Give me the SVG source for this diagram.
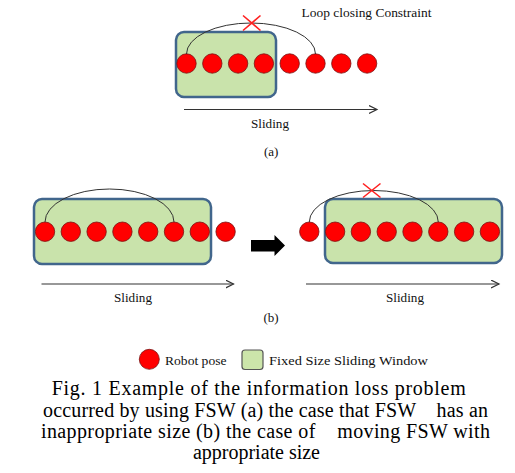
<svg xmlns="http://www.w3.org/2000/svg" width="515" height="473" viewBox="0 0 515 473">
<defs>
<style>
.win{fill:#c9e3ab;stroke:#41668c;stroke-width:2.5}
.pose{fill:#ff0000;stroke:#7a1010;stroke-width:0.8}
.arc{fill:none;stroke:#333;stroke-width:1}
.x{stroke:#ff2020;stroke-width:1.6;fill:none}
.slide{stroke:#333;stroke-width:1.2;fill:none}
text.lbl{font-family:"Liberation Serif","DejaVu Serif",serif;font-size:13px;fill:#111}
text.cap{font-family:"Liberation Serif","DejaVu Serif",serif;font-size:20px;fill:#000;text-anchor:middle}
</style>
<marker id="open" markerWidth="10" markerHeight="10" refX="8" refY="4.5" orient="auto" markerUnits="userSpaceOnUse">
<polyline points="0,0.5 8,4.5 0,8.5" fill="none" stroke="#333" stroke-width="1.2"/>
</marker>
</defs>
<rect width="515" height="473" fill="#ffffff"/>

<g id="panel-a">
<g id="window-a"><rect class="win" x="176" y="32" width="100" height="65" rx="8"/></g>
<g id="poses-a">
<circle class="pose" cx="186.5" cy="63.5" r="9.7"/>
<circle class="pose" cx="212.3" cy="63.5" r="9.7"/>
<circle class="pose" cx="238.1" cy="63.5" r="9.7"/>
<circle class="pose" cx="263.9" cy="63.5" r="9.7"/>
<circle class="pose" cx="289.7" cy="63.5" r="9.7"/>
<circle class="pose" cx="315.5" cy="63.5" r="9.7"/>
<circle class="pose" cx="341.3" cy="63.5" r="9.7"/>
<circle class="pose" cx="367.1" cy="63.5" r="9.7"/>
</g>
<text class="lbl" x="301.5" y="17" textLength="130" lengthAdjust="spacingAndGlyphs">Loop closing Constraint</text>
<text class="lbl" x="251" y="128" textLength="38" lengthAdjust="spacingAndGlyphs">Sliding</text>
<text class="lbl" x="264" y="156">(a)</text>
</g>

<g id="panel-b-left">
<g id="window-b1"><rect class="win" x="34" y="199" width="177" height="65" rx="8"/></g>
<g id="poses-b1">
<circle class="pose" cx="45" cy="231.7" r="9.7"/>
<circle class="pose" cx="70.8" cy="231.7" r="9.7"/>
<circle class="pose" cx="96.6" cy="231.7" r="9.7"/>
<circle class="pose" cx="122.4" cy="231.7" r="9.7"/>
<circle class="pose" cx="148.2" cy="231.7" r="9.7"/>
<circle class="pose" cx="174" cy="231.7" r="9.7"/>
<circle class="pose" cx="199.8" cy="231.7" r="9.7"/>
<circle class="pose" cx="225.6" cy="231.7" r="9.7"/>
</g>
<text class="lbl" x="114" y="302" textLength="38" lengthAdjust="spacingAndGlyphs">Sliding</text>
</g>

<g id="transition-arrow">
<polygon points="251,240 274.5,240 274.5,235 285,245.5 274.5,256 274.5,251.5 251,251.5" fill="#000"/>
</g>

<g id="panel-b-right">
<g id="window-b2"><rect class="win" x="325" y="199" width="177" height="64" rx="8"/></g>
<g id="poses-b2">
<circle class="pose" cx="309.3" cy="231.7" r="9.7"/>
<circle class="pose" cx="335.1" cy="231.7" r="9.7"/>
<circle class="pose" cx="360.9" cy="231.7" r="9.7"/>
<circle class="pose" cx="386.7" cy="231.7" r="9.7"/>
<circle class="pose" cx="412.5" cy="231.7" r="9.7"/>
<circle class="pose" cx="438.3" cy="231.7" r="9.7"/>
<circle class="pose" cx="464.1" cy="231.7" r="9.7"/>
<circle class="pose" cx="489.9" cy="231.7" r="9.7"/>
</g>
<text class="lbl" x="386" y="302" textLength="38" lengthAdjust="spacingAndGlyphs">Sliding</text>
<text class="lbl" x="263.5" y="322">(b)</text>
</g>

<g id="connectors">
<path class="arc" d="M186.5,54 A64.5,31 0 0 1 315.5,54"/>
<path class="x" d="M243,15.5 L260.5,30.5 M260.5,15.5 L243,30.5"/>
<line class="slide" x1="184" y1="109.5" x2="377" y2="109.5" marker-end="url(#open)"/>
<path class="arc" d="M45,222 A64.5,33 0 0 1 174,222"/>
<line class="slide" x1="41.5" y1="284" x2="233.5" y2="284" marker-end="url(#open)"/>
<path class="arc" d="M309.3,222 A64.5,31.5 0 0 1 438.3,222"/>
<path class="x" d="M363,183.5 L380.5,197.5 M380.5,183.5 L363,197.5"/>
<line class="slide" x1="306" y1="284" x2="499" y2="284" marker-end="url(#open)"/>
</g>

<g id="legend">
<circle class="pose" cx="149.3" cy="359.3" r="10"/>
<text class="lbl" x="165" y="365" textLength="61.5" lengthAdjust="spacingAndGlyphs">Robot pose</text>
<rect x="242" y="350" width="21" height="19.5" rx="3" fill="#cce5aa" stroke="#555" stroke-width="1.2"/>
<text class="lbl" x="269" y="365" textLength="159" lengthAdjust="spacingAndGlyphs">Fixed Size Sliding Window</text>
</g>

<g id="caption">
<text class="cap" x="258.7" y="395" textLength="414" lengthAdjust="spacing">Fig. 1 Example of the information loss problem</text>
<text class="cap" x="265.5" y="416.5" textLength="445" lengthAdjust="spacing" xml:space="preserve">occurred by using FSW (a) the case that FSW    has an</text>
<text class="cap" x="265.5" y="437.5" textLength="449" lengthAdjust="spacing" xml:space="preserve">inappropriate size (b) the case of    moving FSW with</text>
<text class="cap" x="256.5" y="458.5" textLength="127" lengthAdjust="spacing">appropriate size</text>
</g>
</svg>
